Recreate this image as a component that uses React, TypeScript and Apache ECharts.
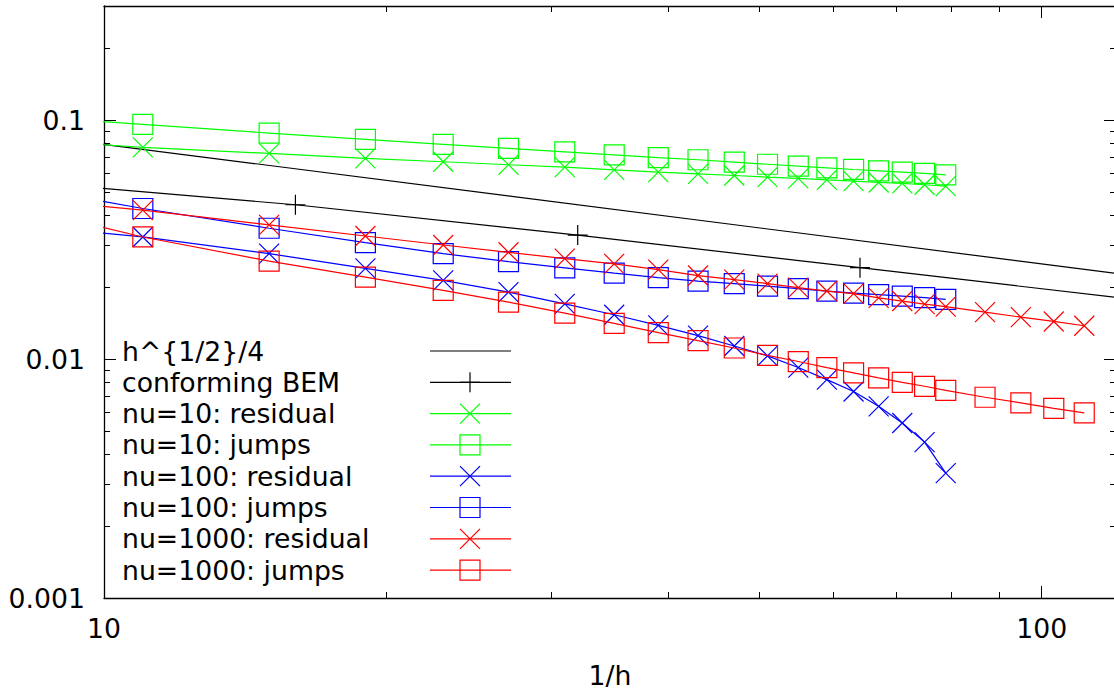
import React, { useEffect, useRef } from "react";
import * as echarts from "echarts";

// ---------- data ----------
const xNu10And100 = [7, 11, 15, 19, 23, 27, 31, 35, 39, 43, 47, 51, 55, 59, 63, 67, 71, 75, 79];
const xNu1000 = [7, 11, 15, 19, 23, 27, 31, 35, 39, 43, 47, 51, 55, 59, 63, 67, 71, 75, 79, 87, 95, 103, 111];

const sqrtRefX = [7, 128];
const sqrtRefY = [0.0945, 0.0221];

const bemX = [8, 16, 32, 64, 128];
const bemY = [0.0557, 0.0442, 0.033, 0.0241, 0.0176];

const nu10Residual = [0.0866, 0.0768, 0.0725, 0.0691, 0.0669, 0.065, 0.0635, 0.0619, 0.0605, 0.0595, 0.0586, 0.0577, 0.057, 0.0562, 0.0555, 0.0548, 0.0543, 0.0536, 0.0529];
const nu10Jumps = [0.108, 0.0959, 0.0882, 0.083, 0.0791, 0.0761, 0.0736, 0.0715, 0.0696, 0.0682, 0.0667, 0.0653, 0.0641, 0.0631, 0.0621, 0.0613, 0.0605, 0.0598, 0.059];
const nu100Residual = [0.0384, 0.03241, 0.02761, 0.02396, 0.02133, 0.01906, 0.01701, 0.01532, 0.01382, 0.01253, 0.01134, 0.01031, 0.00921, 0.0082, 0.00731, 0.00634, 0.0054, 0.00449, 0.00333];
const nu100Jumps = [0.0588, 0.04264, 0.03525, 0.0307, 0.02761, 0.02556, 0.02408, 0.02287, 0.02192, 0.02119, 0.02068, 0.02019, 0.01969, 0.01925, 0.01886, 0.01858, 0.01832, 0.01806, 0.01776];
const nu1000Residual = [0.0497, 0.04195, 0.03639, 0.03272, 0.03, 0.02796, 0.02631, 0.02502, 0.02366, 0.02235, 0.0215, 0.02067, 0.01989, 0.01925, 0.01877, 0.01803, 0.01748, 0.01697, 0.01656, 0.01571, 0.01497, 0.01436, 0.01378];
const nu1000Jumps = [0.0498, 0.03241, 0.0257, 0.02203, 0.01938, 0.01731, 0.01556, 0.01409, 0.01289, 0.01193, 0.01112, 0.01035, 0.00976, 0.00921, 0.00875, 0.00834, 0.00799, 0.00769, 0.00739, 0.00692, 0.00655, 0.00622, 0.00595];

const seriesNames = [
  "h^{1/2}/4",
  "conforming BEM",
  "nu=10: residual",
  "nu=10: jumps",
  "nu=100: residual",
  "nu=100: jumps",
  "nu=1000: residual",
  "nu=1000: jumps",
];

const xMajorTicks = [10, 100];
const xMajorLabels = ["10", "100"];
const xMinorTicks = [20, 30, 40, 50, 60, 70, 80, 90];
const yMajorTicks = [0.001, 0.01, 0.1];
const yMajorLabels = ["0.001", "0.01", "0.1"];
const yMinorTicks = [0.002, 0.003, 0.004, 0.005, 0.006, 0.007, 0.008, 0.009, 0.02, 0.03, 0.04, 0.05, 0.06, 0.07, 0.08, 0.09, 0.2];

const X_MIN = 10;
const X_MAX = 120;
const Y_MIN = 0.001;
const Y_MAX = 0.3;

// ---------- styles ----------
const FONT = "DejaVu Sans";
const FONT_SIZE = 26.7;
const BLACK = "#000000";
const GREEN = "#00ff00";
const BLUE = "#0000ff";
const RED = "#ff0000";
const CROSS = "path://M0 0L20 20M20 0L0 20";
const PLUS = "path://M10 0L10 20M0 10L20 10";

type Marker = "none" | "plus" | "cross" | "square";

const seriesStyle: { color: string; marker: Marker }[] = [
  { color: BLACK, marker: "none" },
  { color: BLACK, marker: "plus" },
  { color: GREEN, marker: "cross" },
  { color: GREEN, marker: "square" },
  { color: BLUE, marker: "cross" },
  { color: BLUE, marker: "square" },
  { color: RED, marker: "cross" },
  { color: RED, marker: "square" },
];

const seriesData: [number[], number[]][] = [
  [sqrtRefX, sqrtRefY],
  [bemX, bemY],
  [xNu10And100, nu10Residual],
  [xNu10And100, nu10Jumps],
  [xNu10And100, nu100Residual],
  [xNu10And100, nu100Jumps],
  [xNu1000, nu1000Residual],
  [xNu1000, nu1000Jumps],
];

function symbolFor(m: Marker): string {
  if (m === "plus") return PLUS;
  if (m === "cross") return CROSS;
  if (m === "square") return "rect";
  return "none";
}

function legendGraphics(): any[] {
  const els: any[] = [];
  const textX = 122;
  const lineX1 = 430;
  const lineX2 = 511;
  const mx = 470;
  const top = 351;
  const step = 31.3;
  const half = 10;
  seriesNames.forEach((name, i) => {
    const y = top + step * i;
    const { color, marker } = seriesStyle[i];
    els.push({
      type: "text",
      x: textX,
      y,
      silent: true,
      style: {
        text: name,
        fontFamily: FONT,
        fontSize: FONT_SIZE,
        fill: BLACK,
        align: "left",
        verticalAlign: "middle",
      },
    });
    els.push({
      type: "line",
      silent: true,
      shape: { x1: lineX1, y1: y, x2: lineX2, y2: y },
      style: { stroke: color, lineWidth: 1.2 },
    });
    if (marker === "cross") {
      els.push({ type: "line", silent: true, shape: { x1: mx - half, y1: y - half, x2: mx + half, y2: y + half }, style: { stroke: color, lineWidth: 1.2 } });
      els.push({ type: "line", silent: true, shape: { x1: mx + half, y1: y - half, x2: mx - half, y2: y + half }, style: { stroke: color, lineWidth: 1.2 } });
    } else if (marker === "plus") {
      els.push({ type: "line", silent: true, shape: { x1: mx, y1: y - half, x2: mx, y2: y + half }, style: { stroke: color, lineWidth: 1.2 } });
      els.push({ type: "line", silent: true, shape: { x1: mx - half, y1: y, x2: mx + half, y2: y }, style: { stroke: color, lineWidth: 1.2 } });
    } else if (marker === "square") {
      els.push({ type: "rect", silent: true, shape: { x: mx - half, y: y - half, width: 2 * half, height: 2 * half }, style: { fill: "none", stroke: color, lineWidth: 1.2 } });
    }
  });
  return els;
}

function nearestLabel(ticks: number[], labels: string[], v: number): string {
  let best = 0;
  let bd = Infinity;
  ticks.forEach((t, i) => {
    const d = Math.abs(Math.log10(t) - Math.log10(v));
    if (d < bd) {
      bd = d;
      best = i;
    }
  });
  return labels[best];
}

export default function App() {
  const ref = useRef<HTMLDivElement>(null);

  useEffect(() => {
    if (!ref.current) return;
    const chart = echarts.init(ref.current, null, { renderer: "svg" });

    const axisLine = { show: true, onZero: false, lineStyle: { color: BLACK, width: 1.3 } };
    const tickLine = { color: BLACK, width: 1 };
    const labelStyle = { fontFamily: FONT, fontSize: FONT_SIZE, color: BLACK };

    const xBase = { type: "log", logBase: 10, min: X_MIN, max: X_MAX, splitLine: { show: false }, minorTick: { show: false } };
    const yBase = { type: "log", logBase: 10, min: Y_MIN, max: Y_MAX, splitLine: { show: false }, minorTick: { show: false } };

    const option: any = {
      animation: false,
      backgroundColor: "#ffffff",
      grid: {
        left: 104,
        top: 6,
        right: -2,
        bottom: 95,
        containLabel: false,
        outerBoundsMode: "none",
      },
      xAxis: [
        {
          ...xBase,
          position: "bottom",
          axisLine,
          axisTick: { show: true, inside: true, length: 12, customValues: xMajorTicks, lineStyle: tickLine },
          axisLabel: {
            show: true,
            ...labelStyle,
            margin: 17,
            customValues: xMajorTicks,
            formatter: (v: number) => nearestLabel(xMajorTicks, xMajorLabels, v),
          },
          name: "1/h",
          nameLocation: "middle",
          nameGap: 64,
          nameTextStyle: { ...labelStyle },
        },
        {
          ...xBase,
          position: "bottom",
          axisLine: { show: false },
          axisTick: { show: true, inside: true, length: 6, customValues: xMinorTicks, lineStyle: tickLine },
          axisLabel: { show: false },
        },
        {
          ...xBase,
          position: "top",
          axisLine,
          axisTick: { show: true, inside: true, length: 12, customValues: xMajorTicks, lineStyle: tickLine },
          axisLabel: { show: false },
        },
        {
          ...xBase,
          position: "top",
          axisLine: { show: false },
          axisTick: { show: true, inside: true, length: 6, customValues: xMinorTicks, lineStyle: tickLine },
          axisLabel: { show: false },
        },
      ],
      yAxis: [
        {
          ...yBase,
          position: "left",
          axisLine,
          axisTick: { show: true, inside: true, length: 12, customValues: yMajorTicks, lineStyle: tickLine },
          axisLabel: {
            show: true,
            ...labelStyle,
            margin: 19,
            customValues: yMajorTicks,
            formatter: (v: number) => nearestLabel(yMajorTicks, yMajorLabels, v),
          },
        },
        {
          ...yBase,
          position: "left",
          axisLine: { show: false },
          axisTick: { show: true, inside: true, length: 6, customValues: yMinorTicks, lineStyle: tickLine },
          axisLabel: { show: false },
        },
        {
          ...yBase,
          position: "right",
          axisLine,
          axisTick: { show: true, inside: true, length: 12, customValues: yMajorTicks, lineStyle: tickLine },
          axisLabel: { show: false },
        },
        {
          ...yBase,
          position: "right",
          axisLine: { show: false },
          axisTick: { show: true, inside: true, length: 6, customValues: yMinorTicks, lineStyle: tickLine },
          axisLabel: { show: false },
        },
      ],
      series: seriesNames.map((name, i) => {
        const [xs, ys] = seriesData[i];
        const { color, marker } = seriesStyle[i];
        return {
          type: "line",
          name,
          xAxisIndex: 0,
          yAxisIndex: 0,
          data: xs.map((x, k) => [x, ys[k]]),
          symbol: symbolFor(marker),
          symbolSize: 20,
          showSymbol: marker !== "none",
          showAllSymbol: true,
          clip: true,
          silent: true,
          lineStyle: { color, width: 1.2 },
          itemStyle: { color: "transparent", borderColor: color, borderWidth: 1.2 },
          emphasis: { disabled: true },
          z: 2 + i,
        };
      }),
      graphic: legendGraphics(),
    };

    chart.setOption(option);
    return () => {
      chart.dispose();
    };
  }, []);

  return (
    <div
      ref={ref}
      style={{ position: "fixed", left: 0, top: 0, width: 1114, height: 693, background: "#ffffff" }}
    />
  );
}
